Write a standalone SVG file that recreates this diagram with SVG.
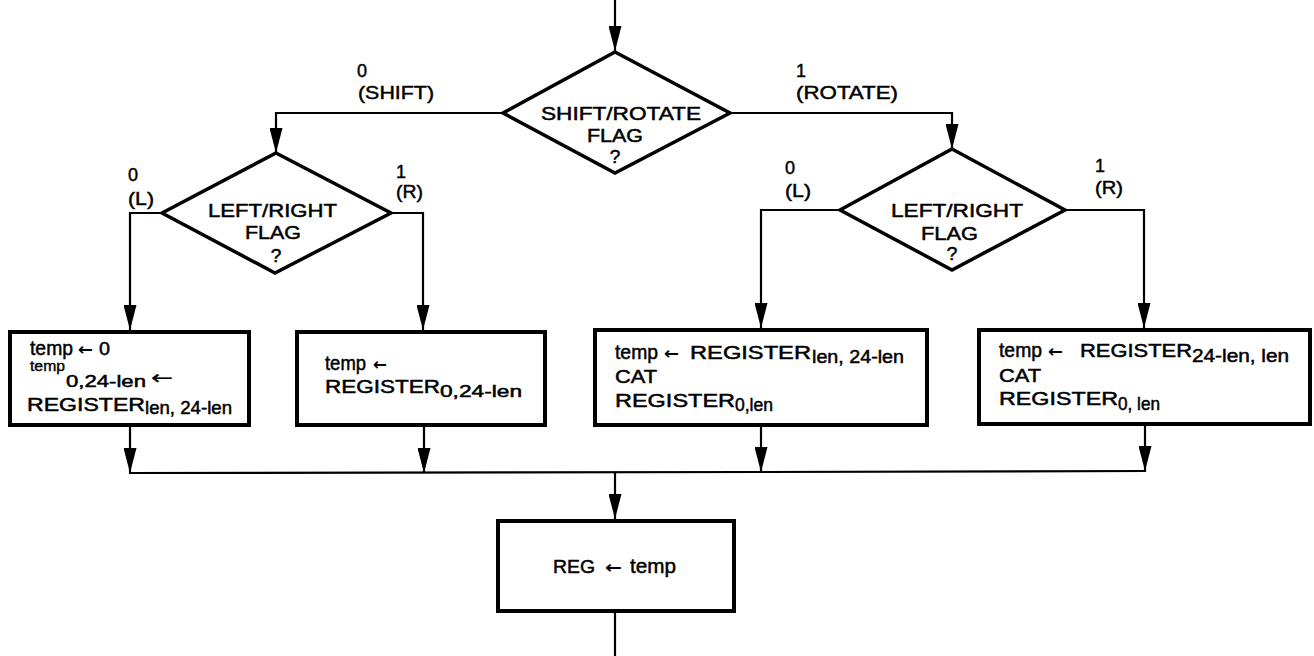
<svg xmlns="http://www.w3.org/2000/svg" width="1314" height="656" viewBox="0 0 1314 656">
<style>
  .bg { fill: #ffffff; }
  .box { fill: #ffffff; stroke: #000; stroke-width: 4; }
  .dia { fill: #ffffff; stroke: #000; stroke-width: 3.5; stroke-linejoin: miter; }
  .ln { fill: none; stroke: #000; stroke-width: 2.2; }
  text { font-family: "Liberation Sans", Arial, sans-serif; fill: #000; stroke: #000; stroke-width: 0.5; }
  .t { font-size: 19px; }
  .w { font-size: 21px; }
  .s { font-size: 18.5px; }
  .s2 { font-size: 17px; }
  .xs { font-size: 15px; stroke-width: 0.4; }
  .lb { font-size: 18px; stroke-width: 0.45; }
  .c { text-anchor: middle; }
  .ar { font-family: "DejaVu Sans", sans-serif; font-weight: bold; font-size: 17px; stroke-width: 0; }
  .thin { font-family: "DejaVu Sans", sans-serif; font-size: 19px; stroke-width: 0.3; }
</style>
<defs>
  <marker id="ah" markerUnits="userSpaceOnUse" markerWidth="25" markerHeight="13" viewBox="0 0 25 13" refX="25" refY="6.5" orient="auto">
    <path d="M0,0 L25,6.5 L0,13 Z" fill="#000"/>
  </marker>
</defs>
<rect class="bg" x="0" y="0" width="1314" height="656"/>

<g id="connectors">
  <path class="ln" d="M615,0 L615,51" marker-end="url(#ah)"/>
  <path class="ln" d="M503,113 L276,113 L276,153" marker-end="url(#ah)"/>
  <path class="ln" d="M730,113 L952,113 L952,149" marker-end="url(#ah)"/>
  <path class="ln" d="M162,213 L130,213 L130,330" marker-end="url(#ah)"/>
  <path class="ln" d="M391,213 L423,213 L423,330" marker-end="url(#ah)"/>
  <path class="ln" d="M840,210 L761,210 L761,328" marker-end="url(#ah)"/>
  <path class="ln" d="M1065,210 L1144,210 L1144,328" marker-end="url(#ah)"/>
  <path class="ln" d="M130,427 L130,473" marker-end="url(#ah)"/>
  <path class="ln" d="M424,427 L424,473" marker-end="url(#ah)"/>
  <path class="ln" d="M761,427 L761,472" marker-end="url(#ah)"/>
  <path class="ln" d="M1145,426 L1145,471" marker-end="url(#ah)"/>
  <path class="ln" d="M129,473 L761,472 L1146,471"/>
  <path class="ln" d="M615,472 L615,519" marker-end="url(#ah)"/>
  <path class="ln" d="M615,613 L615,656"/>
</g>

<g id="labels">
  <text class="lb" x="357" y="77">0</text>
  <text class="lb" x="358" y="99" textLength="76" lengthAdjust="spacingAndGlyphs">(SHIFT)</text>
  <text class="lb" x="796" y="77">1</text>
  <text class="lb" x="796" y="99" textLength="102" lengthAdjust="spacingAndGlyphs">(ROTATE)</text>
  <text class="lb" x="128" y="181">0</text>
  <text class="lb" x="128" y="205" textLength="26" lengthAdjust="spacingAndGlyphs">(L)</text>
  <text class="lb" x="396" y="178">1</text>
  <text class="lb" x="396" y="198" textLength="27" lengthAdjust="spacingAndGlyphs">(R)</text>
  <text class="lb" x="785" y="174">0</text>
  <text class="lb" x="785" y="197" textLength="26" lengthAdjust="spacingAndGlyphs">(L)</text>
  <text class="lb" x="1095" y="172">1</text>
  <text class="lb" x="1095" y="194" textLength="28" lengthAdjust="spacingAndGlyphs">(R)</text>
</g>

<g id="shift-rotate-flag">
  <polygon class="dia" points="615,52 730,113 615,173 503,113"/>
  <text class="t" x="541" y="120" textLength="160" lengthAdjust="spacingAndGlyphs">SHIFT/ROTATE</text>
  <text class="t" x="587" y="142" textLength="56" lengthAdjust="spacingAndGlyphs">FLAG</text>
  <text class="t c" x="615" y="163">?</text>
</g>

<g id="left-right-flag-shift">
  <polygon class="dia" points="276,153 391,213 275,273 162,213"/>
  <text class="t" x="208" y="217" textLength="129" lengthAdjust="spacingAndGlyphs">LEFT/RIGHT</text>
  <text class="t" x="245" y="239" textLength="56" lengthAdjust="spacingAndGlyphs">FLAG</text>
  <text class="t c" x="276" y="262">?</text>
</g>

<g id="left-right-flag-rotate">
  <polygon class="dia" points="952,149 1065,210 952,270 840,210"/>
  <text class="t" x="891" y="217" textLength="132" lengthAdjust="spacingAndGlyphs">LEFT/RIGHT</text>
  <text class="t" x="921" y="240" textLength="57" lengthAdjust="spacingAndGlyphs">FLAG</text>
  <text class="t c" x="952" y="260">?</text>
</g>

<g id="shift-left">
  <rect class="box" x="10" y="332" width="239" height="93"/>
  <text class="w" x="30" y="355" textLength="43" lengthAdjust="spacingAndGlyphs">temp</text>
  <text class="ar" x="78" y="355" textLength="15" lengthAdjust="spacingAndGlyphs">←</text>
  <text class="t" x="99" y="355" textLength="11" lengthAdjust="spacingAndGlyphs">0</text>
  <text class="xs" x="30" y="371" textLength="35" lengthAdjust="spacingAndGlyphs">temp</text>
  <text class="s2" x="66" y="387" textLength="80" lengthAdjust="spacingAndGlyphs">0,24-len</text>
  <text class="thin" x="151" y="384" textLength="22" lengthAdjust="spacingAndGlyphs">←</text>
  <text class="t" x="27" y="411" textLength="118" lengthAdjust="spacingAndGlyphs">REGISTER</text>
  <text class="s" x="145" y="414" textLength="87" lengthAdjust="spacingAndGlyphs">len, 24-len</text>
</g>

<g id="shift-right">
  <rect class="box" x="297" y="332" width="248" height="93"/>
  <text class="w" x="325" y="370" textLength="41" lengthAdjust="spacingAndGlyphs">temp</text>
  <text class="ar" x="373" y="370" textLength="14" lengthAdjust="spacingAndGlyphs">←</text>
  <text class="t" x="325" y="393" textLength="115" lengthAdjust="spacingAndGlyphs">REGISTER</text>
  <text class="s2" x="440" y="397" textLength="82" lengthAdjust="spacingAndGlyphs">0,24-len</text>
</g>

<g id="rotate-left">
  <rect class="box" x="595" y="330" width="332" height="95"/>
  <text class="w" x="615" y="359" textLength="43" lengthAdjust="spacingAndGlyphs">temp</text>
  <text class="ar" x="664" y="359" textLength="15" lengthAdjust="spacingAndGlyphs">←</text>
  <text class="t" x="690" y="359" textLength="121" lengthAdjust="spacingAndGlyphs">REGISTER</text>
  <text class="s" x="812" y="363" textLength="92" lengthAdjust="spacingAndGlyphs">len, 24-len</text>
  <text class="t" x="615" y="383" textLength="42" lengthAdjust="spacingAndGlyphs">CAT</text>
  <text class="t" x="615" y="407" textLength="120" lengthAdjust="spacingAndGlyphs">REGISTER</text>
  <text class="s" x="735" y="411" textLength="38" lengthAdjust="spacingAndGlyphs">0,len</text>
</g>

<g id="rotate-right">
  <rect class="box" x="979" y="330" width="331" height="94"/>
  <text class="w" x="999" y="357" textLength="43" lengthAdjust="spacingAndGlyphs">temp</text>
  <text class="ar" x="1048" y="357" textLength="15" lengthAdjust="spacingAndGlyphs">←</text>
  <text class="t" x="1080" y="357" textLength="112" lengthAdjust="spacingAndGlyphs">REGISTER</text>
  <text class="s" x="1192" y="362" textLength="97" lengthAdjust="spacingAndGlyphs">24-len, len</text>
  <text class="t" x="999" y="382" textLength="42" lengthAdjust="spacingAndGlyphs">CAT</text>
  <text class="t" x="999" y="405" textLength="119" lengthAdjust="spacingAndGlyphs">REGISTER</text>
  <text class="s" x="1118" y="410" textLength="42" lengthAdjust="spacingAndGlyphs">0, len</text>
</g>

<g id="reg-assign">
  <rect class="box" x="498" y="521" width="236" height="90"/>
  <text class="t" x="553" y="573" textLength="42" lengthAdjust="spacingAndGlyphs">REG</text>
  <text class="ar" x="605" y="573" textLength="17" lengthAdjust="spacingAndGlyphs">←</text>
  <text class="w" x="630" y="573" textLength="46" lengthAdjust="spacingAndGlyphs">temp</text>
</g>
</svg>
